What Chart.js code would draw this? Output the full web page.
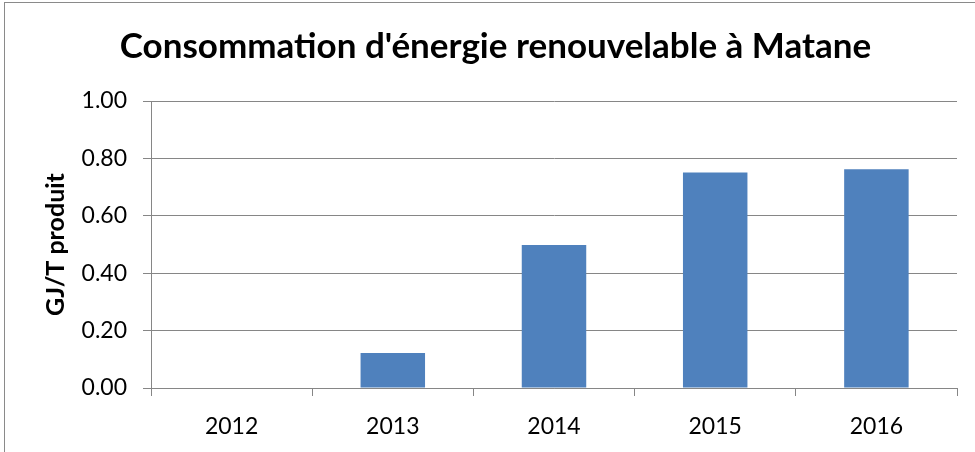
<!DOCTYPE html>
<html>
<head>
<meta charset="utf-8">
<script src="https://cdn.jsdelivr.net/npm/chart.js@4"></script>
<style>
  html, body { margin: 0; padding: 0; background: #fff; }
  #wrap { width: 975px; height: 452px; position: relative; }
</style>
</head>
<body>
<div id="wrap"><canvas id="c" width="975" height="452"></canvas></div>
<script>
const categories = ['2012', '2013', '2014', '2015', '2016'];
const values = [0, 0.122, 0.498, 0.751, 0.762];
const chartTitle = "Consommation d'énergie renouvelable à Matane";
const yAxisTitle = 'GJ/T produit';
const yMin = 0, yMax = 1, yStep = 0.2;

const gridColor = '#868686';
const borderPlugin = {
  id: 'outerBorder',
  beforeDraw(chart) {
    const ctx = chart.ctx;
    ctx.save();
    ctx.fillStyle = '#ffffff';
    ctx.fillRect(0, 0, chart.width, chart.height);
    ctx.strokeStyle = '#8a8a8a';
    ctx.lineWidth = 1;
    ctx.strokeRect(4.5, 2.5, 1000, 500);
    ctx.restore();
  }
};

const padLeft = 34;

new Chart(document.getElementById('c'), {
  type: 'bar',
  data: {
    labels: categories,
    datasets: [{
      data: values,
      backgroundColor: '#4f81bd',
      borderWidth: 0,
      barPercentage: 0.4,
      categoryPercentage: 1.0
    }]
  },
  options: {
    responsive: false,
    animation: false,
    devicePixelRatio: 1,
    layout: { padding: { left: padLeft, right: 18, top: 0, bottom: 0 } },
    plugins: {
      legend: { display: false },
      tooltip: { enabled: false },
      title: {
        display: true,
        text: chartTitle,
        color: '#000',
        font: { family: 'Lato', size: 35, weight: 'bold', lineHeight: 1.2 },
        padding: { top: 26, bottom: 33 }
      }
    },
    scales: {
      x: {
        grid: {
          offset: true,
          drawOnChartArea: false,
          drawTicks: true,
          tickLength: 8,
          color: gridColor
        },
        border: { display: true, color: gridColor, width: 1 },
        ticks: {
          color: '#000',
          font: { family: 'Lato', size: 23 },
          padding: 17,
          maxRotation: 0
        },
        afterFit(scale) { scale.height = 64; }
      },
      y: {
        min: yMin,
        max: yMax,
        grid: {
          color: gridColor,
          drawTicks: true,
          tickLength: 8
        },
        border: { display: true, color: gridColor, width: 1 },
        ticks: {
          stepSize: yStep,
          color: '#000',
          font: { family: 'Lato', size: 23 },
          padding: 16,
          callback: v => Number(v).toFixed(2)
        },
        title: {
          display: true,
          text: yAxisTitle,
          color: '#000',
          font: { family: 'Lato', size: 25, weight: 'bold', lineHeight: 1.2 },
          padding: { top: 7, bottom: 0 }
        },
        afterFit(scale) { scale.width = 151 - padLeft; }
      }
    }
  },
  plugins: [borderPlugin]
});
</script>
</body>
</html>
